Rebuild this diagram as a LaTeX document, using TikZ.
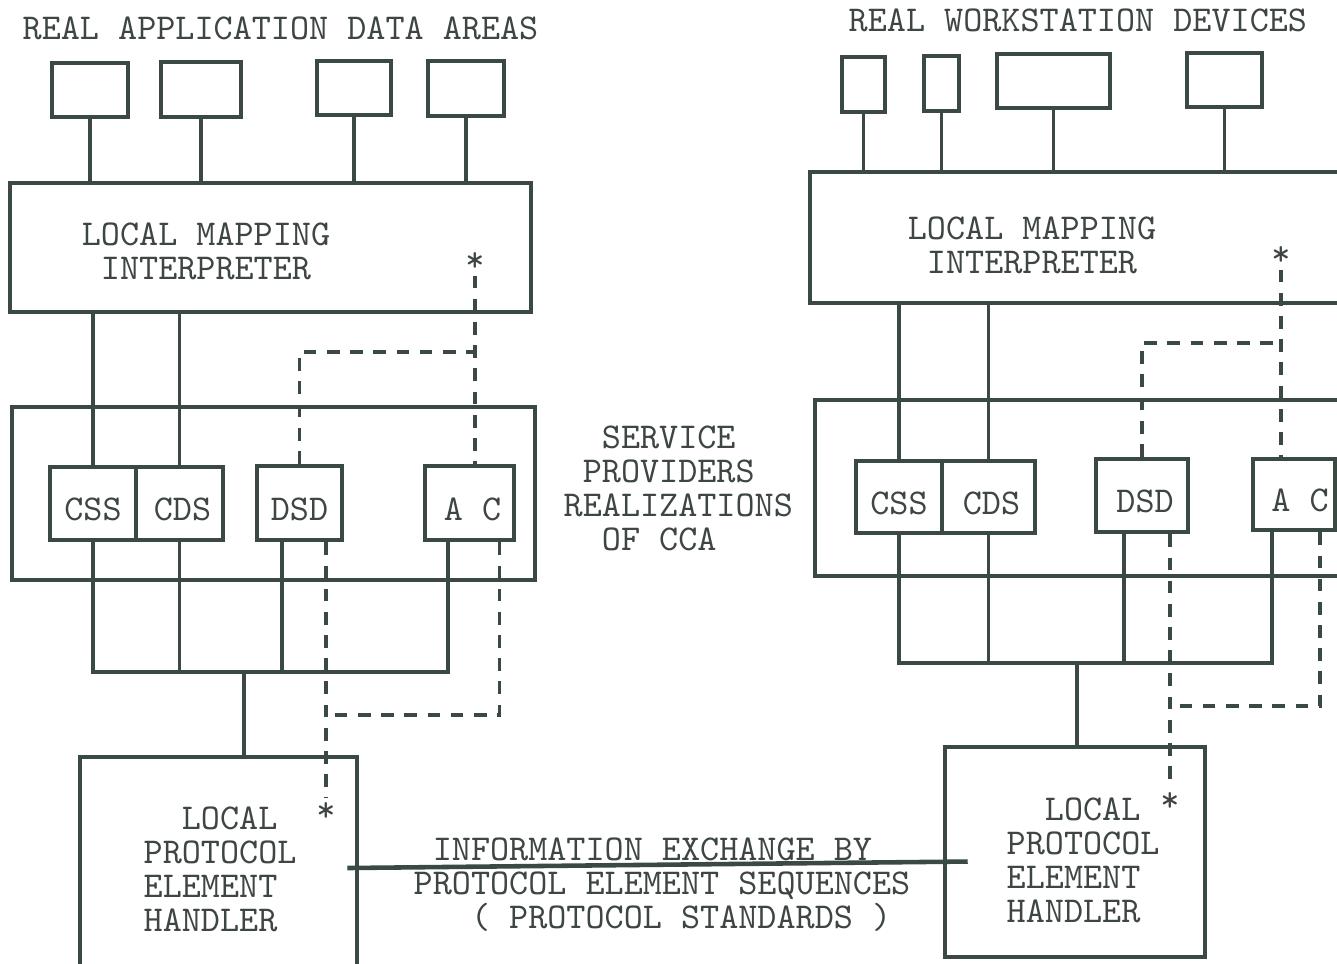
\documentclass[tikz,border=0pt]{standalone}
\usepackage{xcolor}
\usepackage{tikz}
\usetikzlibrary{calc,positioning}
\definecolor{ink}{RGB}{58,74,66}
\definecolor{inkText}{RGB}{62,70,66}
\newcommand{\typew}{\ttfamily\fontsize{10.35}{9.7}\selectfont}

\begin{document}
\begin{tikzpicture}[y=-1cm,
  box/.style={draw=ink, line width=1.3pt, inner sep=0pt, font=\typew, text=inkText},
  sbox/.style={box, text height=0.34cm, text depth=0pt},
  ln/.style={draw=ink, line width=1pt},
  dashln/.style={draw=ink, line width=0.9pt, dash pattern=on 3.6pt off 3pt},
  lbl/.style={font=\typew, text=inkText, inner sep=0pt, align=left},
  astnode/.style={font=\typew, text=inkText, inner sep=1pt}]
\clip (0,0) rectangle (13.37,9.63);

% titles
\node[lbl, anchor=west] (ttlL) at (0.22,0.28) {REAL APPLICATION DATA AREAS};
\node[lbl, anchor=west] (ttlR) at (8.48,0.20) {REAL WORKSTATION DEVICES};

% left side: data areas
\node[box, minimum width=0.76cm, minimum height=0.54cm] (la1) at (0.90,0.90) {};
\node[box, minimum width=0.80cm, minimum height=0.55cm] (la2) at (2.01,0.895) {};
\node[box, minimum width=0.74cm, minimum height=0.54cm] (la3) at (3.54,0.88) {};
\node[box, minimum width=0.76cm, minimum height=0.55cm] (la4) at (4.66,0.885) {};
\node[box, minimum width=5.21cm, minimum height=1.29cm] (lmiL) at (2.705,2.475) {};
\node[lbl, align=center] (lmiLtxt) at (2.06,2.515) {LOCAL MAPPING\\INTERPRETER};
\node[astnode] (astL1) at (4.75,2.62) {*};
\foreach \b in {la1,la2,la3,la4}
  \draw[ln] (\b.south) -- (\b.south |- lmiL.north);

\node[box, minimum width=5.23cm, minimum height=1.73cm] (svcL) at (2.735,4.935) {};
\node[sbox, minimum width=0.86cm, minimum height=0.73cm] (cssL) at (0.93,5.035) {CSS};
\node[sbox, minimum width=0.87cm, minimum height=0.73cm] (cdsL) at (1.795,5.035) {\,CDS};
\node[sbox, minimum width=0.85cm, minimum height=0.74cm] (dsdL) at (2.995,5.03) {DSD};
\node[sbox, minimum width=0.89cm, minimum height=0.74cm] (acL) at (4.695,5.03) {\,A C};
\draw[ln] (cssL.north) -- (cssL.north |- lmiL.south);
\draw[ln] (cdsL.north) -- (cdsL.north |- lmiL.south);

\coordinate (busL) at (2.44,6.72);
\coordinate (dsdLo) at ($(dsdL.south)+(-0.175,0)$);
\draw[ln] (cssL.south) |- (busL) -| ($(acL.south)+(-0.215,0)$);
\draw[ln] (cdsL.south) -- (cdsL.south |- busL);
\draw[ln] (dsdLo) -- (dsdLo |- busL);

\node[box, minimum width=2.77cm, minimum height=2.13cm] (lpeL) at (2.185,8.635) {};
\node[lbl, anchor=west] (lpeLtxt) at (1.43,8.695)
  {\hphantom{PR}LOCAL\\PROTOCOL\\ELEMENT\\HANDLER};
\node[astnode] (astL2) at (3.26,8.12) {*};
\draw[ln] (busL) -- (busL |- lpeL.north);

% left side: dashed links
\coordinate (jL1) at (4.75,3.52);
\coordinate (jL2) at (3.26,7.15);
\draw[dashln] (astL1.south) -- (astL1.south |- acL.north);
\draw[dashln] (dsdL.north) |- (jL1);
\draw[dashln] (astL2.north |- dsdL.south) -- (astL2.north);
\draw[dashln] ($(acL.south)+(0.30,0)$) |- (jL2);

% right side: devices
\node[box, minimum width=0.43cm, minimum height=0.55cm] (rw1) at (8.635,0.845) {};
\node[box, minimum width=0.35cm, minimum height=0.55cm] (rw2) at (9.415,0.835) {};
\node[box, minimum width=1.13cm, minimum height=0.54cm] (rw3) at (10.535,0.81) {};
\node[box, minimum width=0.75cm, minimum height=0.54cm] (rw4) at (12.245,0.80) {};
\node[box, minimum width=5.50cm, minimum height=1.31cm] (lmiR) at (10.85,2.375) {};
\node[lbl, align=center] (lmiRtxt) at (10.32,2.45) {LOCAL MAPPING\\INTERPRETER};
\node[astnode] (astR1) at (12.81,2.56) {*};
\foreach \b in {rw1,rw2,rw3,rw4}
  \draw[ln] (\b.south) -- (\b.south |- lmiR.north);

\node[box, minimum width=5.45cm, minimum height=1.76cm] (svcR) at (10.875,4.88) {};
\node[sbox, minimum width=0.86cm, minimum height=0.72cm] (cssR) at (8.99,4.97) {CSS};
\node[sbox, minimum width=0.93cm, minimum height=0.72cm] (cdsR) at (9.885,4.97) {\,CDS};
\node[sbox, minimum width=0.92cm, minimum height=0.73cm] (dsdR) at (11.42,4.955) {\,DSD};
\node[sbox, minimum width=0.82cm, minimum height=0.71cm] (acR) at (12.94,4.945) {\,\,A C};
\draw[ln] (cssR.north) -- (cssR.north |- lmiR.south);
\draw[ln] (cdsR.north) -- (cdsR.north |- lmiR.south);

\coordinate (busR) at (10.77,6.63);
\coordinate (dsdRo) at ($(dsdR.south)+(-0.18,0)$);
\draw[ln] (cssR.south) |- (busR) -| ($(acR.south)+(-0.22,0)$);
\draw[ln] (cdsR.south) -- (cdsR.south |- busR);
\draw[ln] (dsdRo) -- (dsdRo |- busR);

\node[box, minimum width=2.60cm, minimum height=2.10cm] (lpeR) at (10.75,8.52) {};
\node[lbl, anchor=west] (lpeRtxt) at (10.06,8.60)
  {\hphantom{PR}LOCAL\\PROTOCOL\\ELEMENT\\HANDLER};
\node[astnode] (astR2) at (11.70,8.02) {*};
\draw[ln] (busR) -- (busR |- lpeR.north);

% right side: dashed links
\coordinate (jR1) at (12.81,3.43);
\coordinate (jR2) at (11.70,7.06);
\draw[dashln] (astR1.south) -- (astR1.south |- acR.north);
\draw[dashln] (dsdR.north) |- (jR1);
\draw[dashln] (astR2.north |- dsdR.south) -- (astR2.north);
\draw[dashln] ($(acR.south)+(0.26,0)$) |- (jR2);

% middle
\node[lbl, anchor=west] (svcTxt) at (5.63,4.885)
  {\hphantom{XX}SERVICE\\\hphantom{X}PROVIDERS\\REALIZATIONS\\\hphantom{XX}OF CCA};
\draw[ln, line width=1.3pt] ($(lpeL.east)+(-0.12,0.045)$) -- ($(lpeR.west)+(0.25,0.095)$);
\node[lbl, anchor=west] (xchTxt) at (4.13,8.85)
  {\hphantom{X}INFORMATION EXCHANGE BY\\PROTOCOL ELEMENT SEQUENCES\\\hphantom{XXX}( PROTOCOL STANDARDS )};
\end{tikzpicture}
\end{document}
